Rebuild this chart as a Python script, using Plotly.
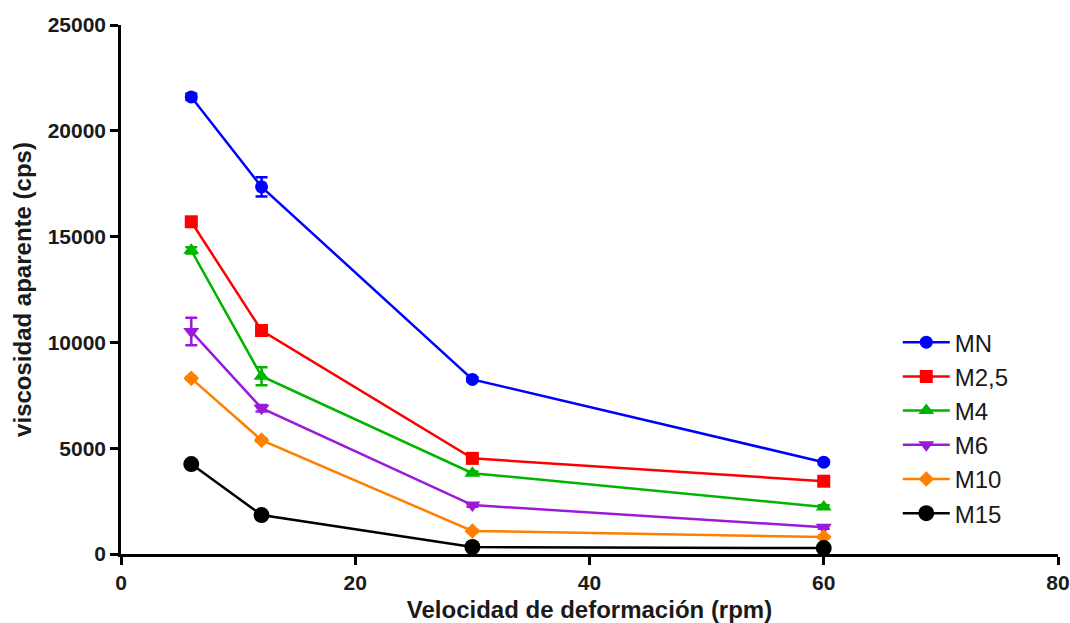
import plotly.graph_objects as go

rpm = [6, 12, 30, 60]
names = ["MN", "M2,5", "M4", "M6", "M10", "M15"]
mn = [21600, 17350, 8250, 4340]
m25 = [15700, 10560, 4520, 3440]
m4 = [14350, 8400, 3820, 2220]
m6 = [10520, 6890, 2310, 1270]
m10 = [8300, 5380, 1090, 800]
m15 = [4250, 1840, 330, 280]
err_mn = [150, 450, 100, 80]
err_m25 = [100, 120, 80, 80]
err_m4 = [150, 420, 80, 80]
err_m6 = [650, 150, 80, 80]
err_m10 = [80, 80, 60, 50]
err_m15 = [150, 150, 60, 50]

series = [mn, m25, m4, m6, m10, m15]
errors = [err_mn, err_m25, err_m4, err_m6, err_m10, err_m15]
colors = ["#0000FF", "#FF0000", "#00B400", "#9B19D9", "#FF8000", "#000000"]
symbols = ["circle", "square", "triangle-up", "triangle-down", "diamond", "circle"]
sizes = [13, 13, 14, 14, 12, 16]

fig = go.Figure()
for n, v, e, c, s, sz in zip(names, series, errors, colors, symbols, sizes):
    fig.add_trace(go.Scatter(
        x=rpm, y=v, name=n, mode="lines+markers",
        line=dict(color=c, width=2.5),
        marker=dict(color=c, symbol=s, size=sz),
        error_y=dict(type="data", array=e, visible=True, color=c, thickness=2.5, width=6),
    ))

fig.update_layout(
    width=1070, height=623,
    margin=dict(l=121, r=12, t=25, b=69),
    paper_bgcolor="white", plot_bgcolor="white",
    font=dict(family="Liberation Sans, Arial, sans-serif", color="#1a1a1a"),
    showlegend=True,
    legend=dict(x=0.829, y=0.238, xanchor="left", yanchor="middle",
                font=dict(size=24, color="#1a1a1a"), bgcolor="rgba(0,0,0,0)",
                itemwidth=47),
)
fig.update_xaxes(
    range=[0, 80], tickvals=[0, 20, 40, 60, 80], tickformat="d",
    showline=True, linecolor="black", linewidth=2.5,
    ticks="outside", ticklen=8, tickwidth=2.5, tickcolor="black",
    showgrid=False, zeroline=False, automargin=False,
    tickfont=dict(size=21, weight="bold"),
    title=dict(text="Velocidad de deformación (rpm)", font=dict(size=24, weight="bold"), standoff=14),
)
fig.update_yaxes(
    range=[0, 25000], tickvals=[0, 5000, 10000, 15000, 20000, 25000], tickformat="d",
    showline=True, linecolor="black", linewidth=2.5,
    ticks="outside", ticklen=8, tickwidth=2.5, tickcolor="black",
    showgrid=False, zeroline=False, automargin=False,
    tickfont=dict(size=21, weight="bold"),
    title=dict(text="viscosidad aparente (cps)", font=dict(size=24, weight="bold"), standoff=10),
)

fig.write_html("out.html")
